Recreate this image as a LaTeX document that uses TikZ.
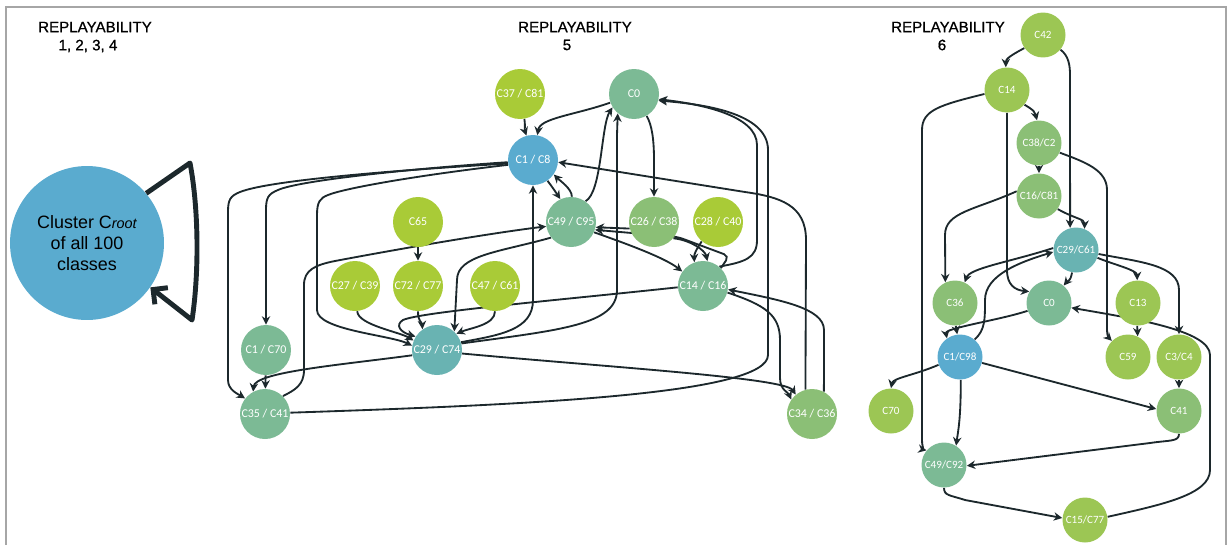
\documentclass[tikz,border=0pt]{standalone}
\usepackage{fontspec}
\usepackage{xcolor}
\usepackage{tikz}
\usetikzlibrary{arrows.meta, positioning, backgrounds}
\newfontfamily\lblfont{Carlito}
\newfontfamily\ttlfont[FakeBold=0.8]{Liberation Sans}
\newfontfamily\clsfont{Liberation Sans}
\definecolor{replime}{HTML}{A9CB37}
\definecolor{repyel}{HTML}{9CC654}
\definecolor{repmint}{HTML}{7CBA95}
\definecolor{repleaf}{HTML}{8BBF76}
\definecolor{repblue}{HTML}{5AABCF}
\definecolor{repteal}{HTML}{69B3B2}
\definecolor{repedge}{HTML}{1C282C}

\begin{document}
\begin{tikzpicture}[
    x=0.02cm, y=-0.02cm,
    cls/.style={circle, inner sep=0pt, minimum size=1cm, text=white, font=\lblfont\fontsize{6.8}{7}\selectfont},
    rcls/.style={cls, minimum size=0.9cm, font=\lblfont\fontsize{6.3}{7}\selectfont},
    ttl/.style={font=\ttlfont\fontsize{8.6}{10}\selectfont, inner sep=0pt},
    arr/.style={-{Stealth[length=4.8pt,width=4.8pt]}, line width=1.05pt, repedge},
    selfloop/.style={-{Straight Barb[length=6pt,width=12pt,line width=2.8pt]}, line width=2.8pt, repedge, line join=round},
]
\useasboundingbox (0,0) rectangle (1230,545);
\draw[gray!70, line width=0.6pt] (6,545) -- (6,7) -- (1226,7) -- (1226,545);

% titles
\node[ttl] (t1) at (95,27) {REPLAYABILITY};
\node[ttl] (t1n) at (88,46) {1, 2, 3, 4};
\node[ttl] (t2) at (575,27) {REPLAYABILITY};
\node[ttl] (t2n) at (567,45) {5};
\node[ttl] (t3) at (948,27) {REPLAYABILITY};
\node[ttl] (t3n) at (942,45) {6};

% replayability 1-4
\node[circle, fill=repblue, minimum size=3.08cm, inner sep=0pt, align=center,
      font=\clsfont\fontsize{10.2}{12}\selectfont] (croot) at (87,243)
      {Cluster C{\itshape\fontsize{8.2}{10}\selectfont root}\\of all 100\\classes};
\draw[selfloop] (croot.40) -- (190,163) .. controls (199,210) and (199,275) .. (192,320) -- (croot.-35);

% replayability 5
\node[cls, fill=replime] (c37c81) at (520,94) {C37 / C81};
\node[cls, fill=repmint] (c0) at (634,94) {C0};
\node[cls, fill=repblue] (c1c8) at (533,160) {C1 / C8};
\node[cls, fill=repmint] (c49c95) at (571,222) {C49 / C95};
\node[cls, fill=repleaf] (c26c38) at (654,222) {C26 / C38};
\node[cls, fill=replime] (c28c40) at (718,222) {C28 / C40};
\node[cls, fill=replime] (c65) at (418,222) {C65};
\node[cls, fill=replime] (c27c39) at (355,286) {C27 / C39};
\node[cls, fill=replime] (c72c77) at (418,286) {C72 / C77};
\node[cls, fill=replime] (c47c61) at (495,286) {C47 / C61};
\node[cls, fill=repmint] (c14c16) at (703,286) {C14 / C16};
\node[cls, fill=repmint] (c1c70) at (266,350) {C1 / C70};
\node[cls, fill=repteal] (c29c74) at (437,350) {C29 / C74};
\node[cls, fill=repmint] (c35c41) at (265,414) {C35 / C41};
\node[cls, fill=repleaf] (c34c36) at (812,414) {C34 / C36};

% replayability 6
\node[rcls, fill=repyel] (r42) at (1043,35) {C42};
\node[rcls, fill=repyel] (r14) at (1007,90) {C14};
\node[rcls, fill=repleaf] (r38c2) at (1039,143) {C38/C2};
\node[rcls, fill=repleaf] (r16c81) at (1039,196) {C16/C81};
\node[rcls, fill=repteal] (r29c61) at (1076,250) {C29/C61};
\node[rcls, fill=repleaf] (r36) at (955,303) {C36};
\node[rcls, fill=repmint] (r0) at (1049,303) {C0};
\node[rcls, fill=repyel] (r13) at (1138,303) {C13};
\node[rcls, fill=repblue] (r1c98) at (960,357) {C1/C98};
\node[rcls, fill=repyel] (r59) at (1128,357) {C59};
\node[rcls, fill=repyel] (r3c4) at (1179,357) {C3/C4};
\node[rcls, fill=repyel] (r70) at (891,411) {C70};
\node[rcls, fill=repleaf] (r41) at (1179,411) {C41};
\node[rcls, fill=repmint] (r49c92) at (944,465) {C49/C92};
\node[rcls, fill=repyel] (r15c77) at (1085,520) {C15/C77};

\begin{scope}[on background layer]
% replayability 5
\draw[arr] (c37c81.-80) .. controls +(1,8) and +(-2,-6) .. (c1c8.105);
\draw[arr] (c0.200) .. controls (575,115) and (540,118) .. (c1c8.80);
\draw[arr] (c0.-60) .. controls (652,125) and (654,140) .. (654,160) -- (c26c38);
\draw[arr] (c1c8.-55) .. controls +(6,8) and +(-4,-6) .. (c49c95.115);
\draw[arr] (c49c95.88) .. controls +(0,-8) and +(6,6) .. (c1c8.-35);
\draw[arr] (c49c95.55) .. controls (602,192) and (601,125) .. (c0.-148);
\draw[arr] (c29c74.15) .. controls (560,330) and (617,325) .. (617,290) -- (617,135) -- (c0.-130);
\draw[arr] (c1c8.185) .. controls (420,168) and (300,180) .. (278,190) .. controls (268,194) and (266,198) .. (266,210) -- (c1c70);
\draw[arr] (c1c8.188) .. controls (400,170) and (270,180) .. (240,192) .. controls (230,196) and (228,200) .. (228,212) -- (228,380) .. controls (228,390) and (238,394) .. (c35c41.142);
\draw[arr] (c1c8.191) .. controls (420,175) and (345,188) .. (328,195) .. controls (320,198) and (317,202) .. (317,215) -- (317,310) .. controls (317,330) and (390,335) .. (c29c74.170);
\draw[arr] (c29c74.18) .. controls (500,335) and (533,330) .. (533,300) -- (c1c8);
\draw[arr] (c35c41.45) .. controls (295,390) and (304,385) .. (304,370) -- (304,285) .. controls (304,270) and (315,265) .. (335,261) .. controls (420,245) and (500,232) .. (c49c95.190);
\draw[arr] (c49c95.218) .. controls (500,252) and (457,255) .. (457,280) -- (c29c74.47);
\draw[arr] (c14c16.183) .. controls (560,300) and (420,312) .. (403,320) .. controls (395,325) and (400,332) .. (c29c74.148);
\draw[arr] (c29c74.192) .. controls (340,365) and (255,372) .. (c35c41.118);
\draw[arr] (c29c74.-8) .. controls (620,368) and (785,378) .. (c34c36.130);
\draw[arr] (c35c41.3) .. controls (520,405) and (768,395) .. (768,355) -- (768,150) .. controls (768,112) and (700,104) .. (c0.-15);
\draw[arr] (c14c16.50) .. controls (745,262) and (757,258) .. (757,240) -- (757,145) .. controls (757,115) and (700,104) .. (c0.-12);
\draw[arr] (c34c36.105) -- (806,240) .. controls (806,205) and (780,197) .. (745,192) -- (c1c8.-5);
\draw[arr] (c14c16.-15) .. controls (765,305) and (780,315) .. (780,340) -- (780,378) .. controls (780,390) and (788,392) .. (c34c36.145);
\draw[arr] (c34c36.62) -- (824,330) .. controls (824,308) and (780,300) .. (c14c16.-8);
\draw[arr] (c26c38.195) -- (c49c95.-12);
\draw[arr, rounded corners=3pt] (c14c16.45) -- (729,256) -- (678,237) -- (c49c95.-18);
\draw[arr] (c49c95.-24) .. controls (630,245) and (665,258) .. (c14c16.145);
\draw[arr] (c26c38.-40) .. controls (690,240) and (705,250) .. (c14c16.80);
\draw[arr] (c28c40.-130) .. controls (696,250) and (694,254) .. (c14c16.110);
\draw[arr] (c65) -- (c72c77);
\draw[arr] (c27c39.-85) .. controls (358,325) and (400,332) .. (c29c74.158);
\draw[arr] (c72c77.-90) .. controls (418,322) and (422,322) .. (c29c74.125);
\draw[arr] (c47c61.-90) .. controls (495,325) and (470,328) .. (c29c74.40);
\draw[arr] (c1c70) -- (c35c41);

% replayability 6
\draw[arr] (r42.215) .. controls +(-15,8) and +(0,-8) .. (r14.93);
\draw[arr] (r42.-40) .. controls +(8,6) and +(0,-10) .. (1070,75) -- (r29c61.105);
\draw[arr] (r14.-40) .. controls +(10,6) and +(-2,-8) .. (r38c2.95);
\draw[arr] (r14.190) .. controls (940,105) and (922,110) .. (922,130) -- (922,440) .. controls (922,448) and (925,450) .. (r49c92.140);
\draw[arr] (r14.south) -- (1007,270) .. controls (1007,285) and (1015,290) .. (r0.150);
\draw[arr] (r38c2) -- (r16c81);
\draw[arr] (r38c2.-25) .. controls (1085,162) and (1107,170) .. (1107,190) -- (1107,330) .. controls (1107,336) and (1109,338) .. (r59.135);
\draw[arr] (r16c81.-35) .. controls +(18,10) and +(0,-10) .. (r29c61.68);
\draw[arr] (r16c81.168) .. controls (975,210) and (945,212) .. (945,235) -- (r36.115);
\draw[arr] (r29c61.175) .. controls (1010,262) and (970,268) .. (r36.65);
\draw[arr] (r29c61.-100) .. controls +(-2,10) and +(5,-6) .. (r0.50);
\draw[arr] (r29c61.-20) .. controls (1115,265) and (1137,270) .. (r13.92);
\draw[arr] (r29c61.-10) .. controls (1140,262) and (1179,265) .. (1179,290) -- (r3c4.north);
\draw[arr] (r1c98.50) .. controls (985,330) and (985,320) .. (985,300) .. controls (985,275) and (1020,262) .. (r29c61.185);
\draw[arr] (r0.200) .. controls (1000,320) and (945,328) .. (r1c98.125);
\draw[arr] (r36.-88) -- (r1c98.97);
\draw[arr] (r13.-92) -- (r59.65);
\draw[arr] (r15c77.8) .. controls (1160,505) and (1210,495) .. (1210,470) -- (1210,355) .. controls (1210,330) and (1130,318) .. (r0.-12);
\draw[arr] (r1c98.200) .. controls (915,375) and (893,378) .. (r70.90);
\draw[arr] (r1c98.-15) -- (r41.175);
\draw[arr] (r1c98.-88) .. controls +(0,40) and +(2,-15) .. (r49c92.58);
\draw[arr] (r3c4) -- (r41);
\draw[arr] (r41.-90) .. controls +(0,8) and +(20,-3) .. (1150,443) -- (r49c92.-2);
\draw[arr] (r49c92.-90) .. controls +(0,8) and +(-15,-5) .. (965,500) -- (r15c77.175);
\end{scope}
\end{tikzpicture}
\end{document}
